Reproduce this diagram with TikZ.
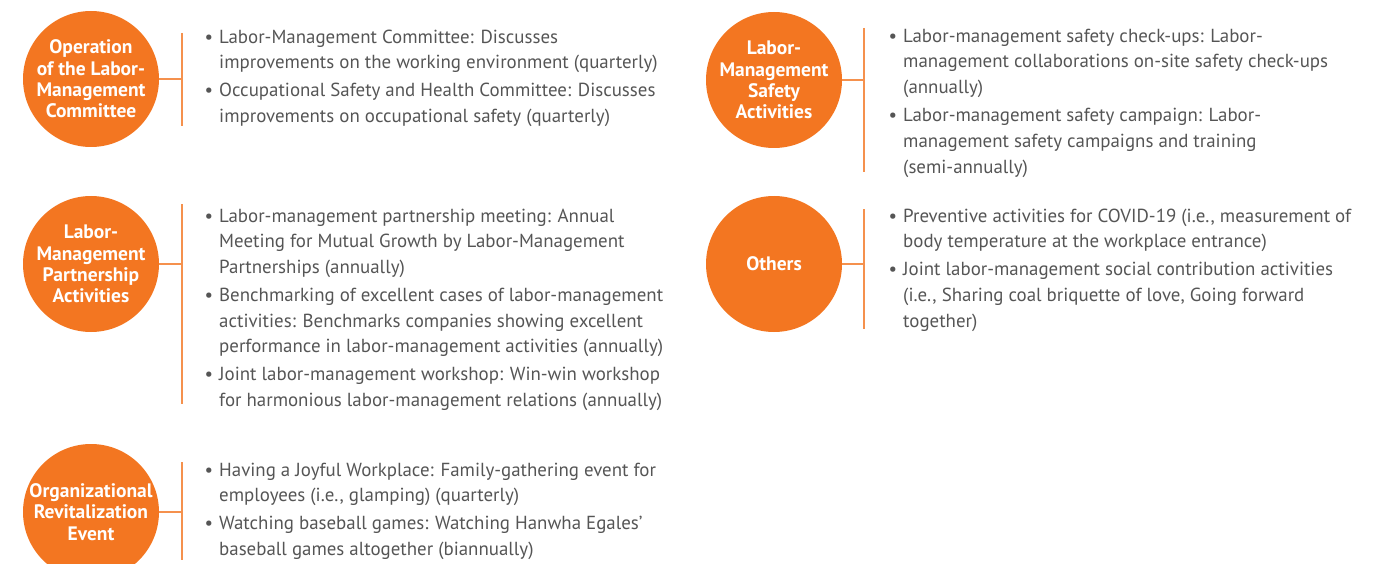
\documentclass[tikz,border=0pt]{standalone}
\usepackage{fontspec}
\setmainfont{PT Sans}
\usepackage{xcolor}
\usetikzlibrary{positioning}
\definecolor{hworange}{RGB}{243,118,33}
\definecolor{hwgray}{RGB}{85,85,85}
\newcommand\itembul{\strut\llap{\textbullet\hskip6pt}}

\begin{document}
\begin{tikzpicture}[x=1pt, y=-1pt,
  topic/.style={circle, fill=hworange, minimum size=136pt, inner sep=0pt, align=center, text=white, font=\bfseries\fontsize{19.5}{21.3}\selectfont},
  items/.style={anchor=north west, align=left, inner sep=0pt, text=hwgray, font=\fontsize{18.9}{25.6}\selectfont},
  bar/.style={draw=hworange!80, line width=1.3pt}]
  \useasboundingbox (0,0) rectangle (1399,564);
  % circles
  \node[topic] (c1) at (91,79) {Operation\\of the Labor-\\Management\\Committee};
  \node[topic] (c2) at (91,264) {Labor-\\Management\\Partnership\\Activities};
  \node[topic] (c3) at (91,512) {Organizational\\Revitalization\\Event};
  \node[topic] (c4) at (774,80) {Labor-\\Management\\Safety\\Activities};
  \node[topic] (c5) at (774,264) {Others};
  % brackets
  \foreach \n/\x/\t/\b in {1/182/33/126, 2/182/204/404, 3/182/462/560, 4/864/28/172, 5/864/209/329} {
    \coordinate (t\n) at (\x,\t);
    \coordinate (u\n) at (\x,\b);
    \draw[bar] (t\n) -- (u\n);
    \draw[bar] (c\n.east) -- (c\n.east -| t\n);
  }
  % left column
  \node[items] (l1) at (219,25) {\itembul Labor-Management Committee: Discusses\\improvements on the working environment (quarterly)\\[2.5pt]
    \itembul Occupational Safety and Health Committee: Discusses\\improvements on occupational safety (quarterly)};
  \node[items] (l2) at (219,204) {\itembul Labor-management partnership meeting: Annual\\Meeting for Mutual Growth by Labor-Management\\Partnerships (annually)\\[2.5pt]
    \itembul Benchmarking of excellent cases of labor-management\\activities: Benchmarks companies showing excellent\\performance in labor-management activities (annually)\\[2.5pt]
    \itembul Joint labor-management workshop: Win-win workshop\\for harmonious labor-management relations (annually)};
  \node[items] (l3) at (219,458) {\itembul Having a Joyful Workplace: Family-gathering event for\\employees (i.e., glamping) (quarterly)\\[2.5pt]
    \itembul Watching baseball games: Watching Hanwha Egales'\\baseball games altogether (biannually)};
  % right column
  \node[items] (r4) at (903,24) {\itembul Labor-management safety check-ups: Labor-\\management collaborations on-site safety check-ups\\(annually)\\[3pt]
    \itembul Labor-management safety campaign: Labor-\\management safety campaigns and training\\(semi-annually)};
  \node[items] (r5) at (903,204) {\itembul Preventive activities for COVID-19 (i.e., measurement of\\body temperature at the workplace entrance)\\[2.5pt]
    \itembul Joint labor-management social contribution activities\\(i.e., Sharing coal briquette of love, Going forward\\together)};
\end{tikzpicture}
\end{document}
